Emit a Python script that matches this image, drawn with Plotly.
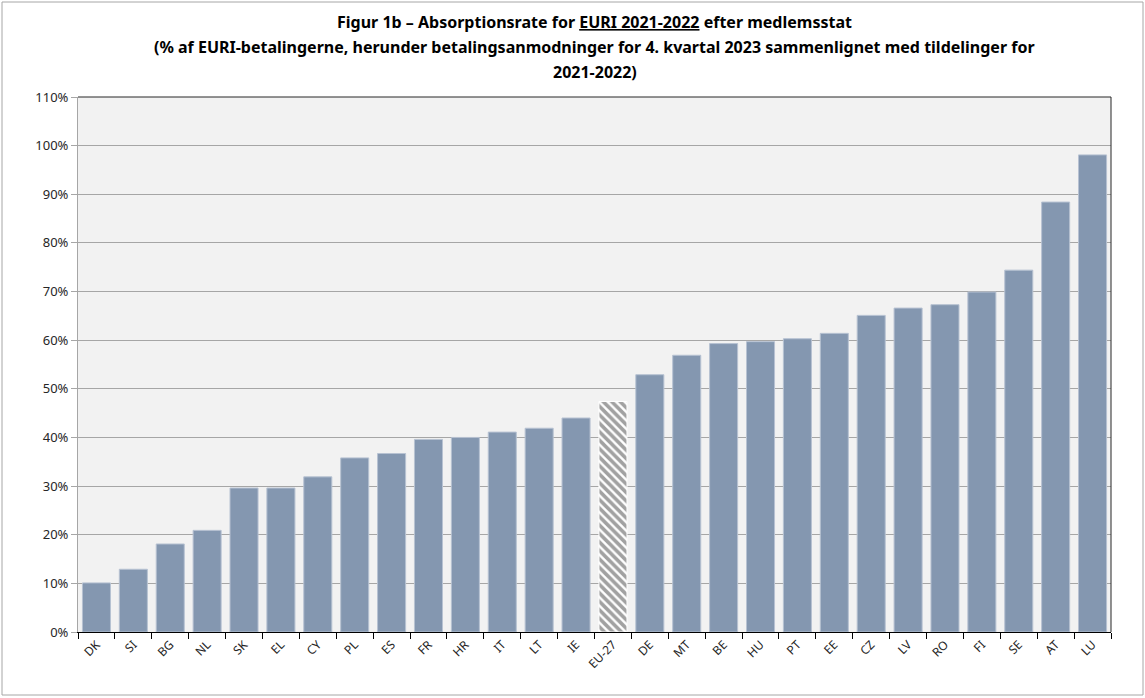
import plotly.graph_objects as go

# medlemsstater sorteret efter absorptionsrate
lande = ["DK", "SI", "BG", "NL", "SK", "EL", "CY", "PL", "ES", "FR", "HR", "IT", "LT", "IE",
         "EU-27", "DE", "MT", "BE", "HU", "PT", "EE", "CZ", "LV", "RO", "FI", "SE", "AT", "LU"]
rate = [10.1, 12.9, 18.1, 20.9, 29.6, 29.6, 31.9, 35.8, 36.7, 39.6, 40.0, 41.1, 41.9, 44.0,
        47.4, 52.9, 56.9, 59.3, 59.7, 60.3, 61.4, 65.1, 66.6, 67.3, 69.9, 74.4, 88.4, 98.1]
y_ticks = [0, 10, 20, 30, 40, 50, 60, 70, 80, 90, 100, 110]
y_labels = [f"{v}%" for v in y_ticks]
titel = [
    "Figur 1b – Absorptionsrate for <u>EURI 2021-2022</u> efter medlemsstat",
    "(% af EURI-betalingerne, herunder betalingsanmodninger for 4. kvartal 2023 sammenlignet med tildelinger for",
    "2021-2022)",
]

BAR = "#8497B0"
W, H = 1145, 698
L, R, T, B = 78, 34, 97, 66

pos = list(range(len(lande)))
colors = [("white" if l == "EU-27" else BAR) for l in lande]
shapes_pat = ["\\" if l == "EU-27" else "" for l in lande]

fig = go.Figure(go.Bar(
    x=pos, y=rate, customdata=lande,
    marker=dict(
        color=colors,
        line=dict(color=["white" if l == "EU-27" else "#B7C2D2" for l in lande], width=1),
        pattern=dict(shape=shapes_pat, fgcolor=BAR, bgcolor="white", size=6, solidity=0.6),
    ),
    hovertemplate="%{customdata}: %{y:.1f}%<extra></extra>",
))

pw = W - L - R
ph = H - T - B
fig.update_layout(
    width=W, height=H,
    margin=dict(l=L, r=R, t=T, b=B),
    paper_bgcolor="white",
    plot_bgcolor="#F2F2F2",
    font=dict(family="Noto Sans, Open Sans, sans-serif", size=12, color="#262626"),
    bargap=0.24,
    showlegend=False,
    shapes=[
        # ramme om hele figuren
        dict(type="rect", xref="paper", yref="paper",
             x0=-(L - 2) / pw, x1=1 + (R - 2) / pw, y0=-(B - 3) / ph, y1=1 + (T - 2) / ph,
             line=dict(color="#A6A6A6", width=1), fillcolor="rgba(0,0,0,0)", layer="below"),
        # plotområdets top og højre kant
        dict(type="line", xref="paper", yref="paper", x0=0, x1=1, y0=1, y1=1,
             line=dict(color="#262626", width=1)),
        dict(type="line", xref="paper", yref="paper", x0=1, x1=1, y0=0, y1=1,
             line=dict(color="#262626", width=1)),
    ],
)
# titlen som tre linjer (linjeafstand som i originalen)
for i, linje in enumerate(titel):
    fig.add_annotation(
        text=f"<b>{linje}</b>", xref="paper", yref="paper",
        x=0.5, y=1 + (T - (22 + 25 * i)) / ph, xanchor="center", yanchor="middle",
        showarrow=False, font=dict(size=16, color="black"),
    )

# etiketter i midten, tickstreger mellem søjlerne (minor ticks)
fig.update_xaxes(
    range=[-0.5, len(lande) - 0.5],
    tickvals=pos, ticktext=lande, tickangle=-45, ticks="",
    minor=dict(tick0=-0.5, dtick=1, ticks="outside", ticklen=6, tickcolor="black", showgrid=False),
    showgrid=False, zeroline=False,
    showline=True, linecolor="black", linewidth=1,
    tickfont=dict(size=12, color="#262626"),
)
fig.update_yaxes(
    range=[0, 110], tickvals=y_ticks, ticktext=y_labels,
    showgrid=True, gridcolor="#A6A6A6", gridwidth=1,
    ticks="outside", ticklen=6, tickcolor="#A6A6A6",
    showline=True, linecolor="#A6A6A6", linewidth=1,
    zeroline=False,
    tickfont=dict(size=13, color="#262626"),
)

fig.write_html("out.html", config={"displayModeBar": False},
               post_script="document.body.style.margin='0px';")
